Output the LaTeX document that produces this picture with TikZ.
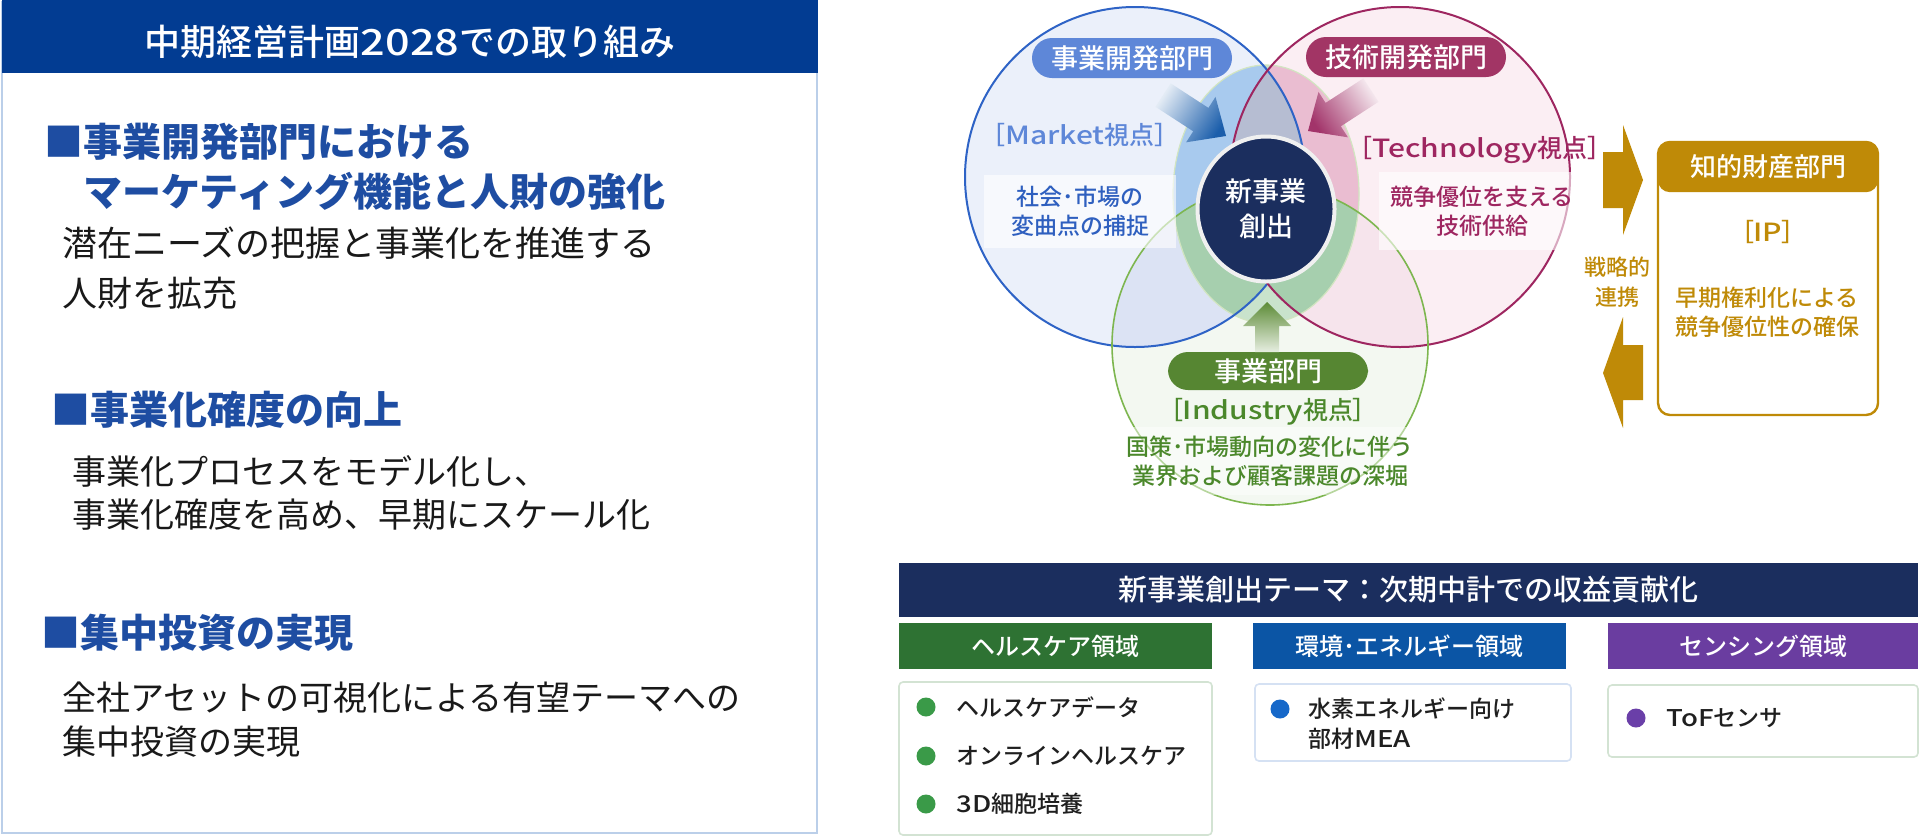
\documentclass[tikz,border=0pt]{standalone}
\usepackage{fontspec}
\setmainfont{Noto Sans CJK JP}
\newfontfamily\medfont{Noto Sans CJK JP Medium}
\newfontfamily\palfont{Noto Sans CJK JP Medium}[RawFeature={+palt}]
\newfontfamily\widefont{Noto Sans CJK JP Medium}[FakeStretch=1.2]
\usepackage{tikz}
\usetikzlibrary{positioning,shapes.geometric}

\definecolor{navy}{HTML}{1B2E5E}
\definecolor{hdrblue}{HTML}{023C92}
\definecolor{headblue}{HTML}{1E4DA2}
\definecolor{panelline}{HTML}{BBCFE9}
\definecolor{mktline}{HTML}{2E63C6}
\definecolor{mktfill}{HTML}{EBF0FA}
\definecolor{mktpill}{HTML}{5E87D8}
\definecolor{mkttext}{HTML}{2E5FBF}
\definecolor{tecline}{HTML}{9E2660}
\definecolor{tecfill}{HTML}{FBEEF3}
\definecolor{tecpill}{HTML}{A23565}
\definecolor{indline}{HTML}{7DB64F}
\definecolor{indfill}{HTML}{F3F8F1}
\definecolor{indpill}{HTML}{568632}
\definecolor{indtext}{HTML}{4B882B}
\definecolor{mixblue}{HTML}{DCE3F4}
\definecolor{mixred}{HTML}{F6E4EC}
\definecolor{bandblue}{HTML}{A8CAEE}
\definecolor{bandpink}{HTML}{EABDD1}
\definecolor{bandgray}{HTML}{B6BDD2}
\definecolor{bandgreen}{HTML}{A6CFAE}
\definecolor{bandlight}{HTML}{C9E3CC}
\definecolor{arrowblue}{HTML}{1B5EAB}
\definecolor{arrowpink}{HTML}{A2346A}
\definecolor{arrowgreen}{HTML}{5C8B36}
\definecolor{gold}{HTML}{BF8A07}
\definecolor{hcgreen}{HTML}{2E7233}
\definecolor{envblue}{HTML}{0B55A5}
\definecolor{senpurple}{HTML}{6A3DA0}
\definecolor{hdot}{HTML}{3A9A48}
\definecolor{edot}{HTML}{1668C9}
\definecolor{sdot}{HTML}{6A3FA8}
\definecolor{hboxline}{HTML}{D3E3D3}
\definecolor{eboxline}{HTML}{D5E1F3}

\newcommand{\fsz}[2]{\fontsize{#1}{#2}\selectfont}
\newcommand{\mktcirc}{(1135,177) circle[radius=85pt]}
\newcommand{\teccirc}{(1400,177) circle[radius=85pt]}
\newcommand{\indcirc}{(1270,345) ellipse[x radius=79pt, y radius=80pt]}
\newcommand{\bandpath}{(1266,194) ellipse[x radius=46.5pt, y radius=64.5pt]}

\begin{document}
\begin{tikzpicture}[x=0.5pt, y=-0.5pt,
    every node/.style={inner sep=0pt},
    heading/.style={anchor=west, align=left, text=headblue, font=\bfseries\fsz{19.5pt}{25pt}},
    body/.style={anchor=west, align=left, text=black!90, font=\fsz{17.5pt}{25pt}},
    pill/.style={rounded corners=10pt, minimum width=100pt, minimum height=20pt, text=white, font=\medfont\fsz{13.5pt}{16pt}},
    view/.style={font=\palfont\fsz{12.5pt}{14pt}},
    note/.style={align=center, font=\medfont\fsz{11.5pt}{14.5pt}},
    cathead/.style={minimum width=156.5pt, minimum height=23pt, text=white, font=\medfont\fsz{12pt}{14pt}},
    itembox/.style={draw=#1, line width=0.8pt, rounded corners=2pt, fill=white},
    dot/.style={circle, minimum size=9.5pt, fill=#1},
    itemtext/.style={anchor=west, align=left, text=black!88, font=\medfont\fsz{11.5pt}{15pt}}
]
\useasboundingbox (0,0) rectangle (1920,836);
\fill[white] (0,0) rectangle (1920,836);

\draw[panelline, line width=1pt] (2,2) rectangle (817,833);
\node[fill=hdrblue, minimum width=408pt, minimum height=36.5pt, anchor=north west] (plan) at (2,0) {};
\node[text=white, font=\medfont\fsz{18pt}{20pt}] (plantitle) at (410,42) {中期経営計画{\widefont 2028}での取り組み};
\node[heading] (goal1) at (44,167) {■事業開発部門における\\\phantom{■}マーケティング機能と人財の強化};
\node[body] (goal1txt) at (62,268) {潜在ニーズの把握と事業化を推進する\\人財を拡充};
\node[heading] (goal2) at (51,410) {■事業化確度の向上};
\node[body, font=\fsz{17pt}{21.5pt}] (goal2txt) at (72,493) {事業化プロセスをモデル化し、\\事業化確度を高め、早期にスケール化};
\node[heading] (goal3) at (41,633) {■集中投資の実現};
\node[body, font=\fsz{17pt}{22pt}] (goal3txt) at (62,720) {全社アセットの可視化による有望テーマへの\\集中投資の実現};

\fill[mktfill] \mktcirc;
\fill[tecfill] \teccirc;
\fill[indfill] \indcirc;
\begin{scope}
  \clip \indcirc;
  \fill[mixblue] \mktcirc;
  \fill[mixred] \teccirc;
\end{scope}
\fill[bandlight] \bandpath;
\begin{scope} \clip \mktcirc; \fill[bandblue] \bandpath; \end{scope}
\begin{scope} \clip \teccirc; \fill[bandpink] \bandpath; \end{scope}
\begin{scope} \clip \mktcirc; \clip \teccirc; \fill[bandgray] \bandpath; \end{scope}
\begin{scope} \clip \indcirc; \clip \mktcirc; \fill[bandgreen] \bandpath; \end{scope}
\begin{scope} \clip \indcirc; \clip \teccirc; \fill[bandgreen] \bandpath; \end{scope}
\draw[indline!35, line width=0.6pt] \bandpath;
\draw[mktline, line width=1pt] \mktcirc;
\draw[tecline, line width=1pt] \teccirc;
\draw[indline, line width=0.8pt] \indcirc;

\node[pill, fill=mktpill] (bizdev) at (1132,58) {事業開発部門};
\node[pill, fill=tecpill] (techdev) at (1406,57) {技術開発部門};
\node[pill, fill=indpill, minimum height=19pt] (bizunit) at (1268,371) {事業部門};
\node[view, text=mktpill] (mktview) at (1080,135) {［{\widefont Market}視点］};
\node[view, text=tecline] (tecview) at (1480,150) {［{\widefont Technology}視点］};
\node[view, text=indtext] (indview) at (1268,412) {［{\widefont Industry}視点］};
\node[note, text=mkttext, fill=white, fill opacity=0.6, text opacity=1, minimum width=96pt, minimum height=36.5pt] (mktnote) at (1080,211.5) {社会･市場の\\変曲点の捕捉};
\node[note, text=tecline, fill=white, fill opacity=0.6, text opacity=1, minimum width=103pt, minimum height=39pt] (tecnote) at (1482,211) {競争優位を支える\\技術供給};
\node[note, text=indtext, fill=white, fill opacity=0.45, text opacity=1, minimum width=150pt, minimum height=34pt] (indnote) at (1270,461) {国策･市場動向の変化に伴う\\業界および顧客課題の深堀};

\shade[top color=arrowblue, bottom color=arrowblue!12, shading angle=-123] (1226,136) -- (1215.5,96.9) -- (1208.4,107.9) -- (1170.7,83.4) -- (1155.5,106.8) -- (1193.2,131.3) -- (1186.1,142.3) -- cycle;
\shade[top color=arrowpink, bottom color=arrowpink!12, shading angle=123] (1308,131) -- (1318.5,91.9) -- (1325.6,102.9) -- (1363.3,78.4) -- (1378.5,101.8) -- (1340.8,126.3) -- (1347.9,137.3) -- cycle;
\shade[top color=arrowgreen, bottom color=arrowgreen!15] (1267,302) -- (1291,326) -- (1279,326) -- (1279,352) -- (1255,352) -- (1255,326) -- (1243,326) -- cycle;
\node[ellipse, fill=navy, draw=white!94!black, line width=2pt, minimum width=68.5pt, minimum height=72.5pt, align=center, text=white, font=\medfont\fsz{13.5pt}{17.5pt}] (core) at (1266,209) {新事業\\創出};

\fill[gold] (1603,152) -- (1623,152) -- (1623,125) -- (1643,180) -- (1623,235) -- (1623,208) -- (1603,208) -- cycle;
\fill[gold] (1643,345) -- (1623,345) -- (1623,317) -- (1603,373) -- (1623,428) -- (1623,400) -- (1643,400) -- cycle;
\node[align=center, text=gold, font=\medfont\fsz{11pt}{15pt}] (link) at (1617,282) {戦略的\\連携};
\node[draw=gold, line width=1.2pt, fill=white, rounded corners=6pt, minimum width=110pt, minimum height=136.5pt] (ipbox) at (1768,278.5) {};
\node[fill=gold, rounded corners=6pt, minimum width=110pt, minimum height=25.5pt, anchor=north, text=white, font=\medfont\fsz{13pt}{15pt}] (ipdept) at (ipbox.north) {知的財産部門};
\node[view, text=gold] (ipview) at (1768,232) {［{\widefont IP}］};
\node[note, text=gold] (ipnote) at (1767,312.5) {早期権利化による\\競争優位性の確保};

\node[fill=navy, minimum width=509.5pt, minimum height=27pt, text=white, font=\medfont\fsz{14.5pt}{17pt}] (theme) at (1408.5,590) {新事業創出テーマ：次期中計での収益貢献化};
\node[cathead, fill=hcgreen] (health) at (1055.5,646) {ヘルスケア領域};
\node[cathead, fill=envblue] (energy) at (1409.5,646) {環境･エネルギー領域};
\node[cathead, fill=senpurple, minimum width=155pt] (sensing) at (1763,646) {センシング領域};
\node[itembox=hboxline, minimum width=156.5pt, minimum height=76.5pt] (healthbox) at (1055.5,758.5) {};
\node[itembox=eboxline, minimum width=158pt, minimum height=38.5pt] (energybox) at (1413,722.5) {};
\node[itembox=hboxline, minimum width=155pt, minimum height=36pt] (sensingbox) at (1763,721) {};
\node[dot=hdot] (hd1) at (926,707) {};
\node[itemtext, right=10pt of hd1] (ht1) {ヘルスケアデータ};
\node[dot=hdot] (hd2) at (926,756) {};
\node[itemtext, right=10pt of hd2] (ht2) {オンラインヘルスケア};
\node[dot=hdot] (hd3) at (926,804) {};
\node[itemtext, right=10pt of hd3] (ht3) {{\widefont 3D}細胞培養};
\node[dot=edot] (ed1) at (1280,709) {};
\node[itemtext, right=9pt of ed1, yshift=-7.5pt] (et1) {水素エネルギー向け\\部材{\widefont MEA}};
\node[dot=sdot] (sd1) at (1636,718) {};
\node[itemtext, right=10pt of sd1] (st1) {{\widefont ToF}センサ};
\end{tikzpicture}
\end{document}
